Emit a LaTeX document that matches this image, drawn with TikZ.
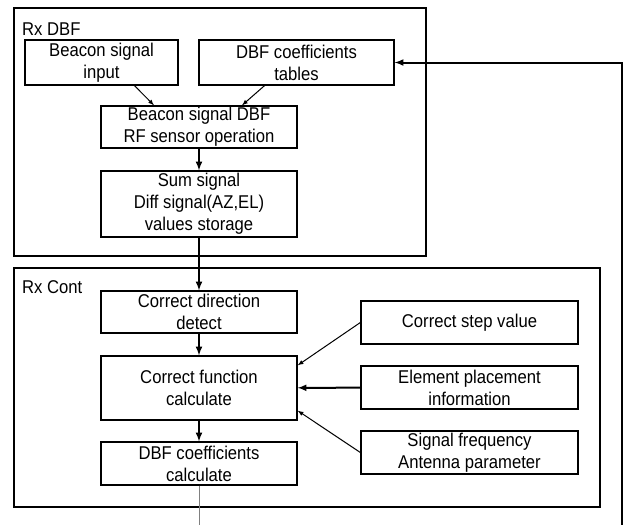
\documentclass[tikz,border=0pt]{standalone}
\usepackage{fontspec}
\setmainfont{Liberation Sans}[FakeStretch=0.9]
\usetikzlibrary{positioning}
\tikzstyle{box} = [draw, line width=1.3pt, align=center, inner sep=0pt, font=\fontsize{18.5}{22}\selectfont]
\tikzstyle{mid} = [box, minimum width=196pt]
\tikzstyle{side} = [box, minimum width=217pt, minimum height=43pt]
\tikzstyle{group} = [draw, line width=2pt]
\tikzstyle{title} = [anchor=west, inner sep=0pt, font=\fontsize{18.5}{22}\selectfont]
\tikzstyle{flow} = [-latex, line width=2pt]
\tikzstyle{link} = [-latex, line width=1pt]

\begin{document}
\begin{tikzpicture}[x=1pt, y=-1pt]
	\useasboundingbox (0,0) rectangle (625,525);

	% Rx DBF
	\draw[group] (14,8) rectangle (426,256);
	\node[title] (dbftitle) at (22,29) {Rx DBF};
	\node[box, minimum width=153pt, minimum height=45pt] (bsin) at (101.5,62.5) {Beacon signal\\input};
	\node[box, minimum width=195pt, minimum height=45pt] (tbl) at (296.5,62.5) {DBF coefficients\\tables};
	\node[mid, minimum height=42pt] (dbfop) at (199,127) {Beacon signal DBF\\RF sensor operation};
	\node[mid, minimum height=66pt] (store) at (199,204) {Sum signal\\Diff signal(AZ,EL)\\values storage};

	% Rx Cont
	\draw[group] (14,268) rectangle (600,507);
	\node[title] (conttitle) at (22,287) {Rx Cont};
	\node[mid, minimum height=42pt] (dir) at (199,312) {Correct direction\\detect};
	\node[mid, minimum height=64pt] (func) at (199,388) {Correct function\\calculate};
	\node[mid, minimum height=43pt] (coef) at (199,463.5) {DBF coefficients\\calculate};
	\node[side] (step) at (469.5,322.5) {Correct step value};
	\node[side] (elem) at (469.5,387.5) {Element placement\\information};
	\node[side] (freq) at (469.5,452.5) {Signal frequency\\Antenna parameter};

	\draw[link] ([xshift=33pt]bsin.south) -- ([xshift=-45pt]dbfop.north);
	\draw[link] ([xshift=-32pt]tbl.south) -- ([xshift=43pt]dbfop.north);
	\draw[flow] (dbfop) -- (store);
	\draw[flow] (store) -- (dir);
	\draw[flow] (dir) -- (func);
	\draw[flow] (func) -- (coef);
	\draw[link] (step.west) -- ([yshift=-10pt]func.north east);
	\draw[flow] (elem) -- (func);
	\draw[link] (freq.west) -- ([yshift=10pt]func.south east);

	% feedback to the tables
	\coordinate (fbl) at (199,535);
	\coordinate (fbr) at (622,535);
	\draw[line width=1pt, gray] (coef) -- (fbl);
	\draw[flow] (fbl) -- (fbr) |- (tbl);
\end{tikzpicture}
\end{document}
